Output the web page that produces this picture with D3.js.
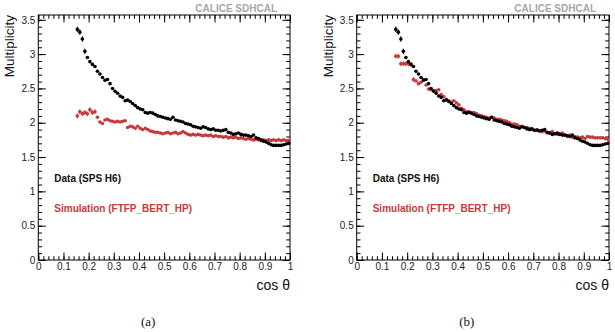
<!DOCTYPE html>
<html><head><meta charset="utf-8">
<script src="https://cdn.jsdelivr.net/npm/d3@7"></script>
<style>body{margin:0;background:#fff}svg{display:block}</style>
</head><body>
<script>
// bin centres of cos(theta)
const cosTheta = d3.range(85).map(i => +(0.155 + i * 0.01).toFixed(3));
// Data (SPS H6) multiplicity – same in both panels
const dataValues = [3.36,3.32,3.22,3.04,2.95,2.89,2.85,2.82,2.75,2.71,
 2.66,2.62,2.63,2.57,2.50,2.46,2.43,2.39,2.37,2.32,
 2.33,2.31,2.28,2.25,2.22,2.20,2.19,2.15,2.14,2.15,
 2.14,2.12,2.10,2.09,2.08,2.07,2.06,2.05,2.08,2.04,
 2.03,2.02,2.01,1.99,1.98,1.97,1.95,1.94,1.93,1.92,
 1.94,1.93,1.91,1.90,1.91,1.89,1.89,1.88,1.89,1.90,
 1.86,1.85,1.83,1.84,1.85,1.83,1.82,1.82,1.81,1.80,
 1.82,1.78,1.77,1.75,1.73,1.72,1.70,1.68,1.67,1.67,
 1.67,1.67,1.68,1.69,1.70];
// Simulation (FTFP_BERT_HP), panel (a)
const simValuesA = [2.10,2.16,2.13,2.15,2.13,2.19,2.15,2.16,2.08,2.01,
 1.99,2.04,2.05,2.03,2.02,2.01,2.02,2.01,2.02,2.03,
 1.93,1.95,1.94,1.92,1.95,1.92,1.90,1.92,1.90,1.88,
 1.87,1.86,1.86,1.85,1.84,1.85,1.86,1.84,1.85,1.86,
 1.84,1.85,1.87,1.85,1.83,1.82,1.83,1.82,1.83,1.82,
 1.81,1.82,1.81,1.82,1.80,1.81,1.80,1.80,1.79,1.80,
 1.78,1.79,1.78,1.79,1.77,1.78,1.77,1.76,1.77,1.76,
 1.75,1.76,1.75,1.74,1.75,1.74,1.75,1.74,1.75,1.74,
 1.75,1.74,1.75,1.74,1.74];
// Simulation (FTFP_BERT_HP), panel (b)
const simValuesB = [2.97,2.97,2.86,2.86,2.86,2.86,2.85,2.63,2.61,2.57,
 2.59,2.63,2.55,2.49,2.48,2.47,2.47,2.48,2.41,2.38,
 2.34,2.32,2.30,2.32,2.29,2.26,2.21,2.19,2.16,2.16,
 2.14,2.15,2.13,2.11,2.10,2.09,2.08,2.07,2.08,2.07,
 2.05,2.05,2.04,2.03,2.02,2.00,1.98,1.98,1.97,1.95,
 1.95,1.93,1.93,1.92,1.90,1.89,1.90,1.88,1.87,1.88,
 1.85,1.85,1.87,1.84,1.83,1.84,1.85,1.82,1.80,1.82,
 1.79,1.80,1.79,1.78,1.79,1.77,1.80,1.79,1.79,1.78,
 1.78,1.78,1.78,1.77,1.76];
const xTicks = [0,0.1,0.2,0.3,0.4,0.5,0.6,0.7,0.8,0.9,1];
const xTickLabels = ["0","0.1","0.2","0.3","0.4","0.5","0.6","0.7","0.8","0.9","1"];
const yTicks = [0,0.5,1,1.5,2,2.5,3,3.5];
const yTickLabels = ["0","0.5","1","1.5","2","2.5","3","3.5"];
const panelLabels = ["(a)","(b)"];
const legendLabels = ["Data (SPS H6)","Simulation (FTFP_BERT_HP)"];
const binHalf = 0.005;

const W = 615, H = 332;
const RED = "#c9383b";
const svg = d3.select("body").append("svg").attr("width", W).attr("height", H)
  .style("font-family", "'Liberation Sans', Arial, sans-serif");

function panel(x0, x1, simVals, label) {
  const top = 15, bot = 260;
  const x = d3.scaleLinear().domain([0, 1]).range([x0, x1]);
  const y = d3.scaleLinear().domain([0, 3.57]).range([bot, top]);
  const g = svg.append("g");

  const fmtX = (d) => xTickLabels[xTicks.findIndex(t => Math.abs(t - d) < 1e-9)];
  const fmtY = (d) => yTickLabels[yTicks.findIndex(t => Math.abs(t - d) < 1e-9)];
  const xMinor = d3.range(0, 1.0001, 0.02);
  const yMinor = d3.range(0, 3.5001, 0.1);

  function styleAxis(sel) {
    sel.select(".domain").remove();
    sel.selectAll("line").attr("stroke", "#000").attr("stroke-width", 1);
    sel.selectAll("text").attr("fill", "#222").style("font-size", "10px")
      .style("font-family", "'Liberation Sans', Arial, sans-serif");
  }
  // bottom
  g.append("g").attr("transform", `translate(0,${bot})`)
    .call(d3.axisBottom(x).tickValues(xTicks).tickSize(-7.5).tickPadding(3).tickFormat(fmtX)).call(styleAxis);
  g.append("g").attr("transform", `translate(0,${bot})`)
    .call(d3.axisBottom(x).tickValues(xMinor).tickSize(-3.8).tickFormat("")).call(styleAxis);
  // top
  g.append("g").attr("transform", `translate(0,${top})`)
    .call(d3.axisTop(x).tickValues(xTicks).tickSize(-7.5).tickFormat("")).call(styleAxis);
  g.append("g").attr("transform", `translate(0,${top})`)
    .call(d3.axisTop(x).tickValues(xMinor).tickSize(-3.8).tickFormat("")).call(styleAxis);
  // left
  g.append("g").attr("transform", `translate(${x0},0)`)
    .call(d3.axisLeft(y).tickValues(yTicks).tickSize(-7.5).tickPadding(3).tickFormat(fmtY)).call(styleAxis);
  g.append("g").attr("transform", `translate(${x0},0)`)
    .call(d3.axisLeft(y).tickValues(yMinor).tickSize(-3.8).tickFormat("")).call(styleAxis);
  // right
  g.append("g").attr("transform", `translate(${x1},0)`)
    .call(d3.axisRight(y).tickValues(yTicks).tickSize(-7.5).tickFormat("")).call(styleAxis);
  g.append("g").attr("transform", `translate(${x1},0)`)
    .call(d3.axisRight(y).tickValues(yMinor).tickSize(-3.8).tickFormat("")).call(styleAxis);

  // frame
  g.append("rect").attr("x", x0).attr("y", top).attr("width", x1 - x0).attr("height", bot - top)
    .attr("fill", "none").attr("stroke", "#000").attr("stroke-width", 1);

  // simulation points with bin-width error bars
  const sim = cosTheta.map((c, i) => ({c, v: simVals[i], e: i < 8 ? 0.035 : 0.015}));
  const sg = g.append("g");
  sg.selectAll("line.h").data(sim).join("line")
    .attr("x1", d => x(d.c - binHalf)).attr("x2", d => x(d.c + binHalf))
    .attr("y1", d => y(d.v)).attr("y2", d => y(d.v)).attr("stroke", RED).attr("stroke-width", 1);
  sg.selectAll("line.v").data(sim).join("line")
    .attr("x1", d => x(d.c)).attr("x2", d => x(d.c))
    .attr("y1", d => y(d.v - d.e)).attr("y2", d => y(d.v + d.e)).attr("stroke", RED).attr("stroke-width", 1);
  sg.selectAll("circle").data(sim).join("circle")
    .attr("cx", d => x(d.c)).attr("cy", d => y(d.v)).attr("r", 1.8).attr("fill", RED);

  // data points
  const dat = cosTheta.map((c, i) => ({c, v: dataValues[i], e: i < 4 ? 0.04 : 0.012}));
  const dg = g.append("g");
  dg.selectAll("line").data(dat).join("line")
    .attr("x1", d => x(d.c)).attr("x2", d => x(d.c))
    .attr("y1", d => y(d.v - d.e)).attr("y2", d => y(d.v + d.e)).attr("stroke", "#000").attr("stroke-width", 1);
  dg.selectAll("circle").data(dat).join("circle")
    .attr("cx", d => x(d.c)).attr("cy", d => y(d.v)).attr("r", 1.8).attr("fill", "#000");

  // texts
  g.append("text").attr("x", x1 - 13).attr("y", 12).attr("text-anchor", "end")
    .attr("fill", "#a8a8a8").style("font-size", "10px").style("font-weight", "bold").text("CALICE SDHCAL");
  g.append("text").attr("transform", `translate(${x0 - 24},${top}) rotate(-90)`)
    .attr("text-anchor", "end").attr("fill", "#111").style("font-size", "13.5px").text("Multiplicity");
  g.append("text").attr("x", x1).attr("y", 290).attr("text-anchor", "end")
    .attr("fill", "#111").style("font-size", "14px").text("cos θ");
  g.append("text").attr("x", x0 + 16).attr("y", 182).attr("fill", "#111")
    .style("font-size", "10px").style("font-weight", "bold").text(legendLabels[0]);
  g.append("text").attr("x", x0 + 16).attr("y", 212).attr("fill", RED)
    .style("font-size", "10px").style("font-weight", "bold").text(legendLabels[1]);
  g.append("text").attr("x", (x0 + x1) / 2 - 16).attr("y", 326).attr("text-anchor", "middle")
    .attr("fill", "#111").style("font-size", "13px").style("font-family", "'Liberation Serif', 'Times New Roman', serif")
    .text(label);
}

panel(38.3, 290, simValuesA, panelLabels[0]);
panel(356.7, 609, simValuesB, panelLabels[1]);
</script>
</body></html>
